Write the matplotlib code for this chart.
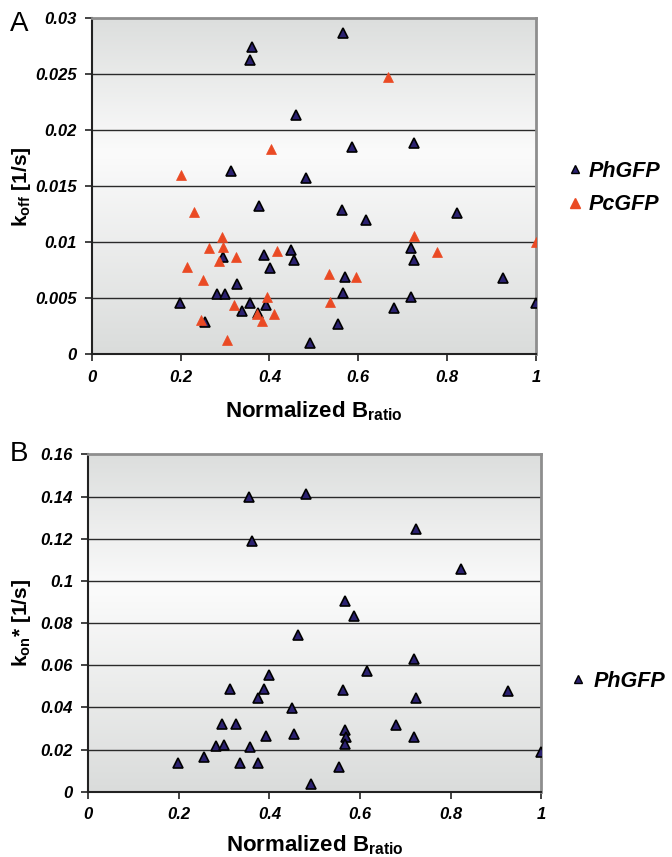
import numpy as np
import matplotlib.pyplot as plt
from matplotlib.colors import LinearSegmentedColormap
from matplotlib.lines import Line2D
from matplotlib.ticker import FuncFormatter

plt.rcParams['font.family'] = ['Liberation Sans', 'DejaVu Sans']
plt.rcParams['mathtext.fontset'] = 'custom'
plt.rcParams['mathtext.rm'] = 'Liberation Sans:bold'
plt.rcParams['mathtext.bf'] = 'Liberation Sans:bold'

# Panel A: k_off vs normalized B_ratio
ph_a_x = [0.361, 0.356, 0.460, 0.313, 0.482, 0.566, 0.587, 0.725, 0.377, 0.296,
          0.388, 0.449, 0.456, 0.401, 0.327, 0.283, 0.300, 0.199, 0.356, 0.392,
          0.338, 0.374, 0.256, 0.491, 0.563, 0.617, 0.822, 0.719, 0.725, 0.570,
          0.927, 0.566, 0.719, 1.000, 0.680, 0.554]
ph_a_y = [0.0274, 0.0263, 0.0214, 0.0164, 0.0157, 0.0287, 0.0185, 0.0189, 0.0132, 0.0087,
          0.0089, 0.0093, 0.0084, 0.0077, 0.0063, 0.0054, 0.0054, 0.0046, 0.0046, 0.0044,
          0.0039, 0.0037, 0.0029, 0.0010, 0.0129, 0.0120, 0.0126, 0.0095, 0.0084, 0.0069,
          0.0068, 0.0055, 0.0051, 0.0046, 0.0041, 0.0027]
pc_a_x = [0.403, 0.200, 0.666, 0.230, 0.293, 0.264, 0.296, 0.324, 0.287, 0.214,
          0.250, 0.395, 0.320, 0.371, 0.411, 0.383, 0.245, 0.304, 0.416, 0.725,
          1.000, 0.777, 0.535, 0.596, 0.537]
pc_a_y = [0.0183, 0.0160, 0.0248, 0.0127, 0.0105, 0.0095, 0.0096, 0.0087, 0.0083, 0.0078,
          0.0066, 0.0051, 0.0044, 0.0036, 0.0036, 0.0030, 0.0031, 0.0013, 0.0092, 0.0106,
          0.0100, 0.0091, 0.0072, 0.0069, 0.0047]

# Panel B: k_on* vs normalized B_ratio
ph_b_x = [0.354, 0.481, 0.361, 0.462, 0.723, 0.822, 0.566, 0.587, 0.400, 0.312,
          0.388, 0.374, 0.450, 0.295, 0.326, 0.392, 0.455, 0.281, 0.300, 0.356,
          0.256, 0.197, 0.336, 0.374, 0.491, 0.719, 0.615, 0.563, 0.927, 0.723,
          0.679, 0.566, 0.569, 0.718, 0.566, 1.000, 0.553]
ph_b_y = [0.1397, 0.1413, 0.1190, 0.0745, 0.1248, 0.1055, 0.0906, 0.0834, 0.0554, 0.0486,
          0.0486, 0.0443, 0.0399, 0.0320, 0.0320, 0.0264, 0.0272, 0.0217, 0.0222, 0.0211,
          0.0166, 0.0138, 0.0138, 0.0138, 0.0037, 0.0628, 0.0573, 0.0483, 0.0478, 0.0443,
          0.0317, 0.0293, 0.0258, 0.0258, 0.0225, 0.0187, 0.0119]

x_ticks = [0, 0.2, 0.4, 0.6, 0.8, 1]
a_yticks = [0, 0.005, 0.01, 0.015, 0.02, 0.025, 0.03]
b_yticks = [0, 0.02, 0.04, 0.06, 0.08, 0.1, 0.12, 0.14, 0.16]

ph_style = dict(marker='^', ls='none', ms=7, mfc='#2b2170', mec='black', mew=1.2, zorder=3)
pc_style = dict(marker='^', ls='none', ms=7.5, mfc='#ea4a24', mec='#ea4a24', mew=0.5, zorder=3)

bg = LinearSegmentedColormap.from_list('bg', [(0, '#dadcdb'), (0.6, '#fbfbfb'), (1, '#dcdedd')])
fmt = FuncFormatter(lambda v, p: '%g' % v)
leg_font = dict(size=15.5, weight='bold', style='italic')


def style_axes(ax, yticks):
    grad = np.linspace(0, 1, 256).reshape(-1, 1)
    ax.imshow(grad, cmap=bg, aspect='auto', extent=[0, 1, 0, 1], origin='lower',
              transform=ax.transAxes, zorder=0)
    ax.set_xlim(0, 1)
    ax.set_ylim(yticks[0], yticks[-1])
    ax.set_xticks(x_ticks)
    ax.set_yticks(yticks)
    ax.xaxis.set_major_formatter(fmt)
    ax.yaxis.set_major_formatter(fmt)
    for t in yticks[1:-1]:
        ax.axhline(t, color='#2a2a2a', lw=1.0, zorder=1)
    for s in ['top', 'right']:
        ax.spines[s].set_color('#8e8e8e')
        ax.spines[s].set_linewidth(2)
    for s in ['left', 'bottom']:
        ax.spines[s].set_color('#222222')
        ax.spines[s].set_linewidth(1.5)
    ax.tick_params(direction='out', length=5, width=1.2, color='#222222',
                   labelsize=12, pad=6)
    for lab in ax.get_xticklabels() + ax.get_yticklabels():
        lab.set_fontweight('bold')
        lab.set_fontstyle('italic')


fig = plt.figure(figsize=(6.72, 8.57), dpi=100)

ax1 = fig.add_axes([0.1365, 0.5866, 0.661, 0.392])
style_axes(ax1, a_yticks)
ax1.plot(ph_a_x, ph_a_y, **ph_style)
ax1.plot(pc_a_x, pc_a_y, **pc_style)
ax1.set_xlabel(r'Normalized B$_{\mathrm{ratio}}$', fontsize=16, fontweight='bold')
ax1.set_ylabel(r'k$_{\mathrm{off}}$ [1/s]', fontsize=15, fontweight='bold')
ax1.xaxis.set_label_coords(0.5, -0.135)
ax1.yaxis.set_label_coords(-0.132, 0.5)

handles_a = [Line2D([], [], marker='^', ls='none', ms=6, mfc='#2b2170', mec='black', mew=1),
             Line2D([], [], marker='^', ls='none', ms=6.5, mfc='#ea4a24', mec='#ea4a24')]
ax1.legend(handles_a, ['PhGFP', 'PcGFP'], loc='center left', bbox_to_anchor=(1.03, 0.495),
           frameon=False, handlelength=0.6, handletextpad=0.35, labelspacing=0.6,
           prop=leg_font)

ax2 = fig.add_axes([0.1314, 0.0762, 0.674, 0.3935])
style_axes(ax2, b_yticks)
ax2.plot(ph_b_x, ph_b_y, **ph_style)
ax2.set_xlabel(r'Normalized B$_{\mathrm{ratio}}$', fontsize=16, fontweight='bold')
ax2.set_ylabel(r'k$_{\mathrm{on}}$* [1/s]', fontsize=15, fontweight='bold')
ax2.xaxis.set_label_coords(0.5, -0.124)
ax2.yaxis.set_label_coords(-0.122, 0.5)
ax2.legend(handles_a[:1], ['PhGFP'], loc='center left', bbox_to_anchor=(1.025, 0.328),
           frameon=False, handlelength=0.6, handletextpad=0.4, prop=leg_font)

fig.text(0.015, 0.972, 'A', fontsize=20, va='center', ha='left')
fig.text(0.015, 0.470, 'B', fontsize=20, va='center', ha='left')

fig.savefig('out.png', dpi=100)
